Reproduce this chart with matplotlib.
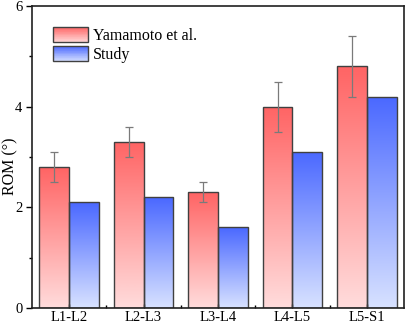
import numpy as np
import matplotlib
matplotlib.use("Agg")
import matplotlib.pyplot as plt
from matplotlib.patches import Rectangle
from matplotlib.legend_handler import HandlerBase
from matplotlib.colors import LinearSegmentedColormap, to_rgb

categories = ["L1-L2", "L2-L3", "L3-L4", "L4-L5", "L5-S1"]
yamamoto = [2.8, 3.3, 2.3, 4.0, 4.8]
yamamoto_err = [0.3, 0.3, 0.2, 0.5, 0.6]
study = [2.1, 2.2, 1.6, 3.1, 4.2]
series_names = ["Yamamoto et al.", "Study"]

plt.rcParams['font.family'] = ['Liberation Serif', 'DejaVu Serif']
plt.rcParams['mathtext.fontset'] = 'stix'

red_top, red_bot = "#FF6464", "#FFDCDC"
blue_top, blue_bot = "#4A68FF", "#D8E2FF"

fig = plt.figure(figsize=(4.08, 3.26), dpi=100)
ax = fig.add_axes([32/408, 18/326, 372/408, 302/326])

x = np.arange(len(categories))
w = 0.4

def gradient_bars(bars, top, bot):
    cmap = LinearSegmentedColormap.from_list("g", [bot, top])
    grad = np.linspace(0, 1, 256).reshape(-1, 1)
    for b in bars:
        x0, y0 = b.get_x(), b.get_y()
        x1, y1 = x0 + b.get_width(), y0 + b.get_height()
        im = ax.imshow(grad, cmap=cmap, aspect='auto', origin='lower',
                       extent=[x0, x1, y0, y1], zorder=1, interpolation='bilinear')
        im.set_clip_path(b)

b1 = ax.bar(x - w/2, yamamoto, w, facecolor='none', edgecolor='#404040', linewidth=1.0, zorder=2)
b2 = ax.bar(x + w/2, study, w, facecolor='none', edgecolor='#404040', linewidth=1.0, zorder=2)
gradient_bars(b1, red_top, red_bot)
gradient_bars(b2, blue_top, blue_bot)
ax.errorbar(x - w/2, yamamoto, yerr=yamamoto_err, fmt='none', ecolor='#7a7a7a',
            elinewidth=0.9, capsize=3, capthick=0.9, zorder=3)

ax.set_xlim(-0.5, len(categories) - 0.5)
ax.set_ylim(0, 6)
ax.set_xticks(x)
ax.set_xticklabels(categories)
ax.set_xticks(np.arange(len(categories) - 1) + 0.5, minor=True)
ax.set_yticks([0, 2, 4, 6])
ax.set_yticks([1, 3, 5], minor=True)
ax.tick_params(axis='x', which='major', direction='in', length=3, width=1, labelsize=10.5, pad=2)
ax.tick_params(axis='x', which='minor', direction='in', length=2, width=1)
ax.tick_params(axis='y', which='major', direction='out', length=4, width=1, labelsize=10.5, pad=3)
ax.tick_params(axis='y', which='minor', direction='out', length=2.5, width=1)
ax.set_ylabel("ROM (°)", fontsize=11.5)
ax.yaxis.set_label_coords(-14/372, 0.47)
for s in ax.spines.values():
    s.set_linewidth(1.2)
    s.set_color('#202020')


class GradHandler(HandlerBase):
    def __init__(self, top, bot, n=24):
        super().__init__()
        self.top, self.bot, self.n = to_rgb(top), to_rgb(bot), n

    def create_artists(self, legend, orig_handle, xdescent, ydescent, width, height, fontsize, trans):
        arts = []
        t, b = np.array(self.top), np.array(self.bot)
        for i in range(self.n):
            f = (i + 0.5) / self.n
            c = b + (t - b) * f
            r = Rectangle((-xdescent, -ydescent + height * i / self.n), width, height / self.n + 0.02,
                          facecolor=c, edgecolor='none', transform=trans)
            arts.append(r)
        arts.append(Rectangle((-xdescent, -ydescent), width, height, facecolor='none',
                              edgecolor='#404040', linewidth=1.0, transform=trans))
        return arts

h1 = Rectangle((0, 0), 1, 1)
h2 = Rectangle((0, 0), 1, 1)
ax.legend([h1, h2], series_names, loc='upper left', bbox_to_anchor=(0.056, 0.93),
          frameon=False, fontsize=11.5, handlelength=2.2, handleheight=1.1,
          handletextpad=0.3, labelspacing=0.12, borderaxespad=0, borderpad=0,
          handler_map={h1: GradHandler(red_top, red_bot), h2: GradHandler(blue_top, blue_bot)})

fig.savefig("out.png", dpi=100)
